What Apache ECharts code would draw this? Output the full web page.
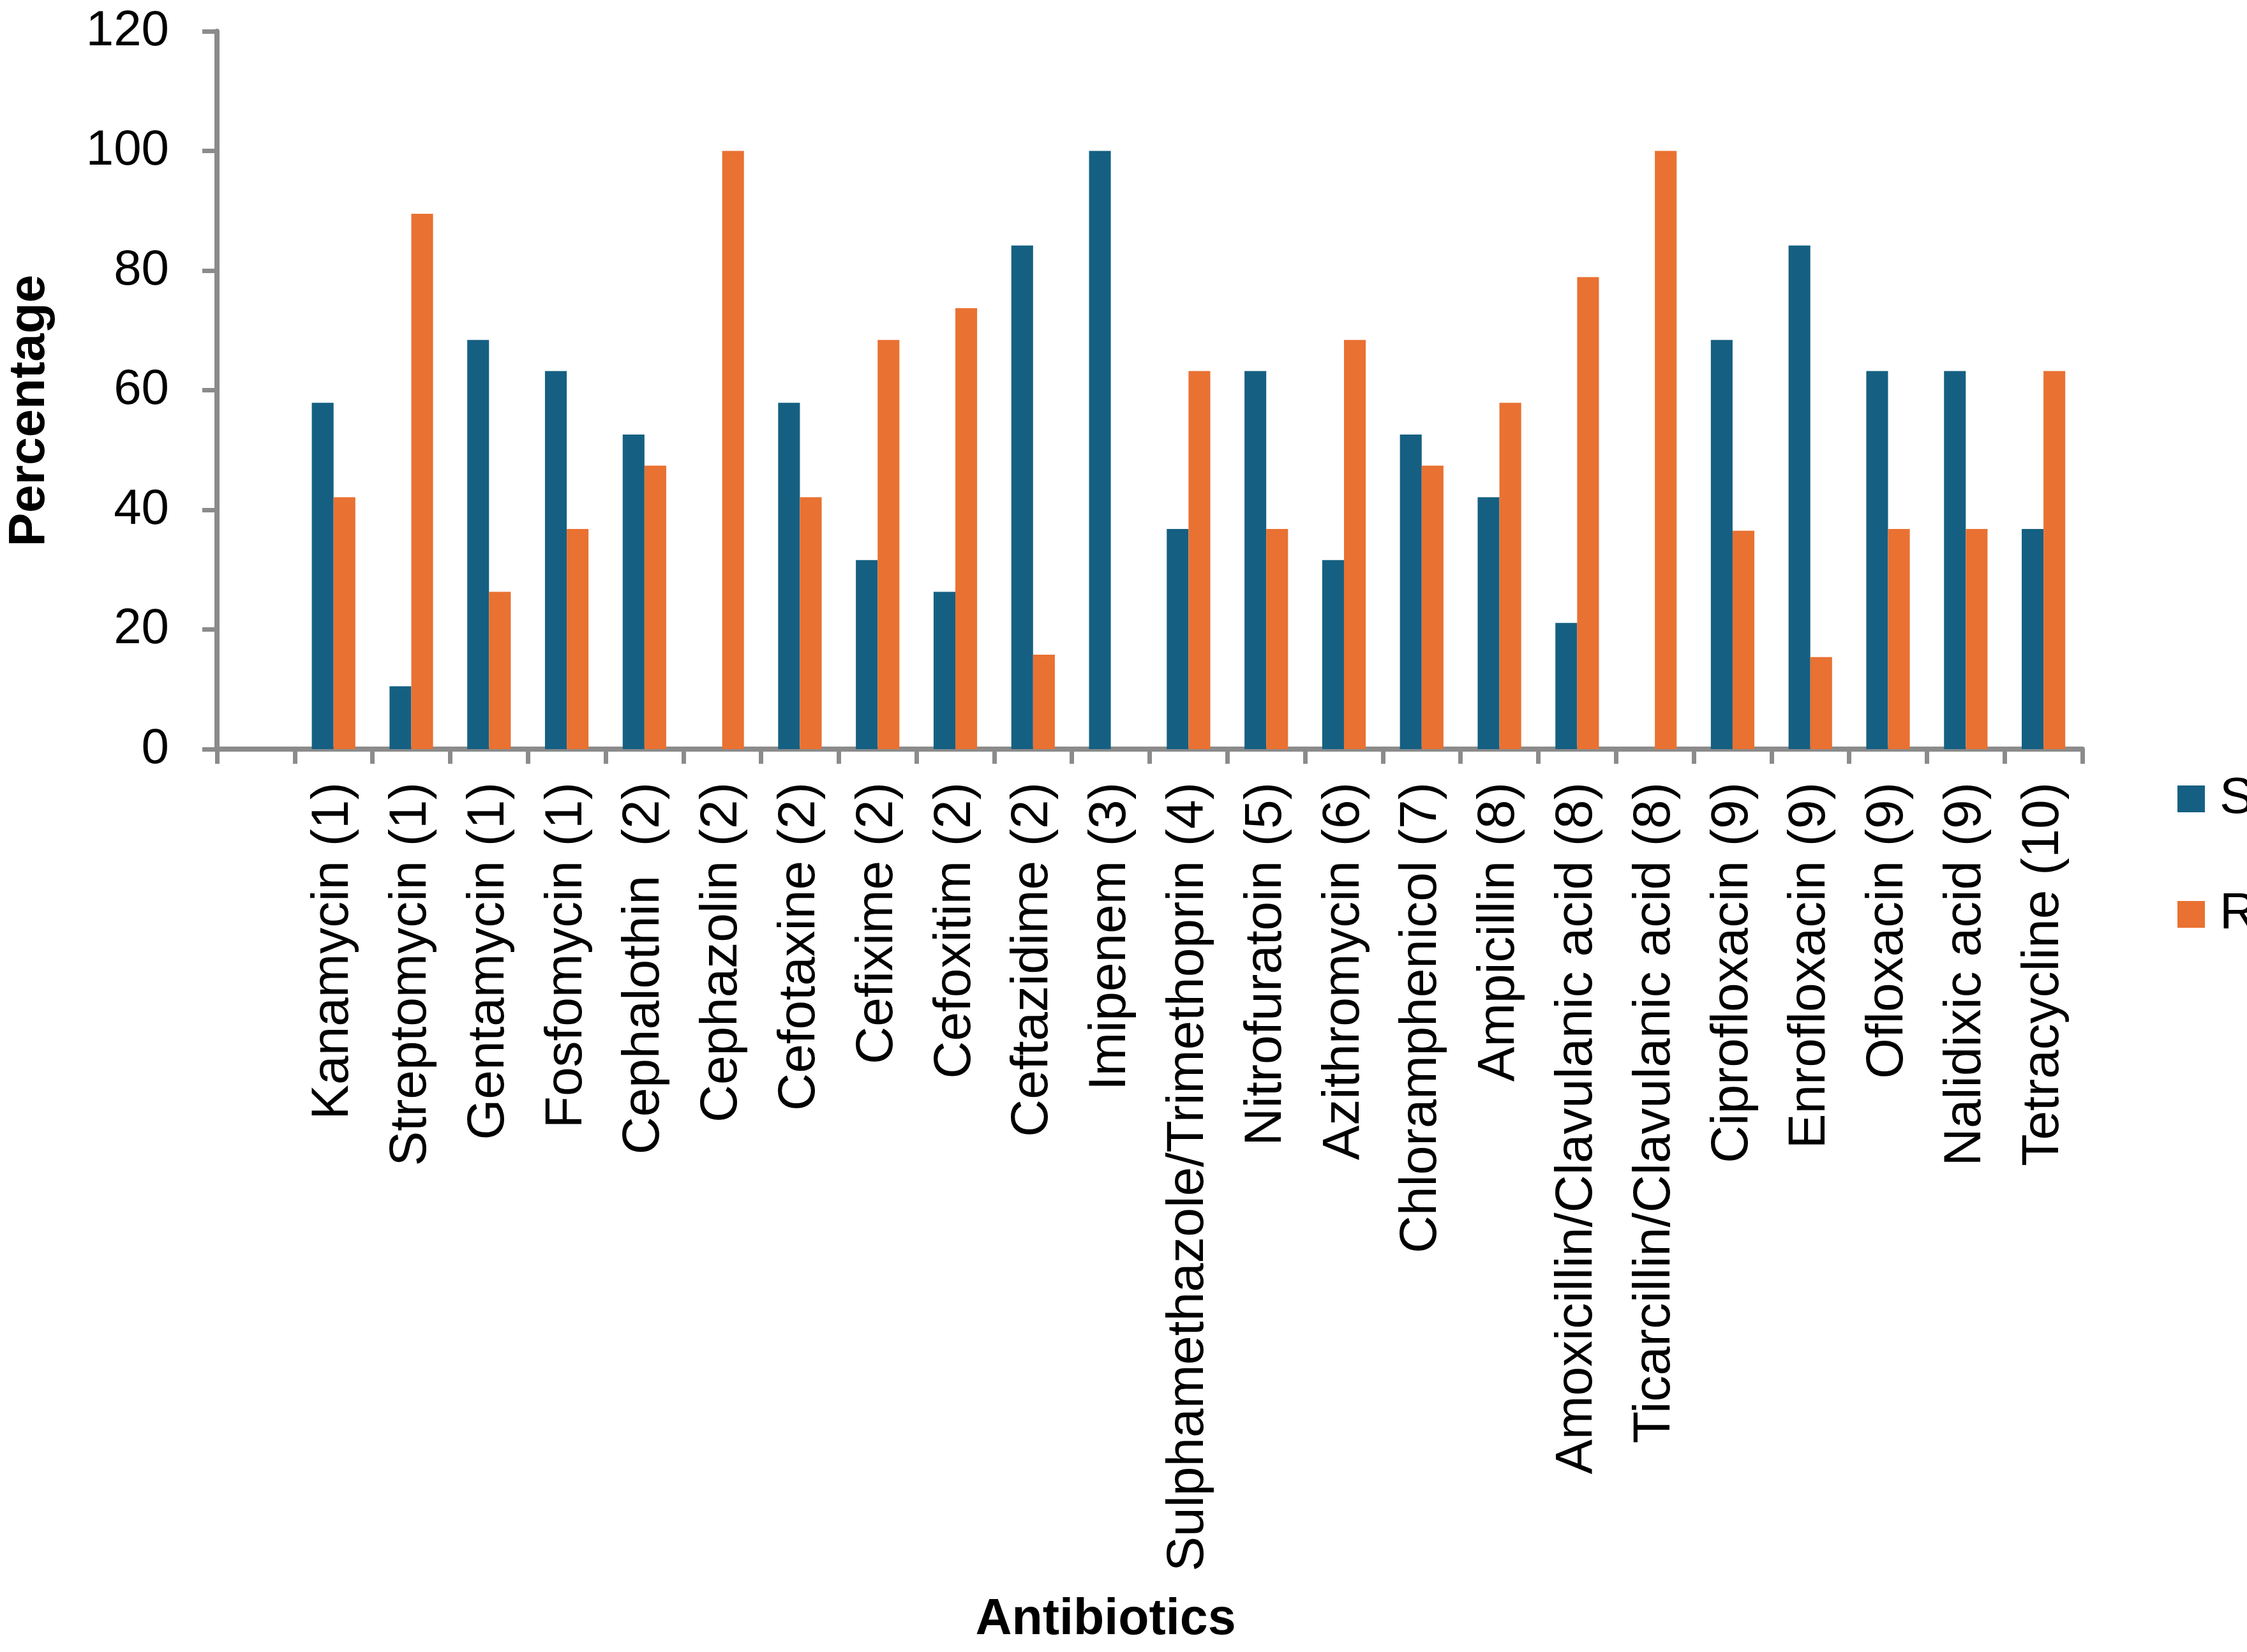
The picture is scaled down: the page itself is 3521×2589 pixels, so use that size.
<!DOCTYPE html>
<html>
<head>
<meta charset="utf-8">
<script src="https://cdn.jsdelivr.net/npm/echarts@6/dist/echarts.min.js"></script>
<style>
  html, body { margin: 0; padding: 0; background: #ffffff; }
  #chart { width: 3521px; height: 2589px; }
</style>
</head>
<body>
<div id="chart"></div>
<script>
// Categories (first slot is an empty category, as in the original)
const categories = [
  '',
  'Kanamycin (1)', 'Streptomycin (1)', 'Gentamycin (1)', 'Fosfomycin (1)',
  'Cephalothin  (2)', 'Cephazolin (2)', 'Cefotaxine (2)', 'Cefixime (2)',
  'Cefoxitim (2)', 'Ceftazidime (2)', 'Imipenem (3)',
  'Sulphamethazole/Trimethoprin (4)', 'Nitrofuratoin (5)', 'Azithromycin (6)',
  'Chloramphenicol (7)', 'Ampicillin (8)', 'Amoxicillin/Clavulanic acid (8)',
  'Ticarcillin/Clavulanic acid (8)', 'Ciprofloxacin (9)', 'Enrofloxacin (9)',
  'Ofloxacin (9)', 'Nalidixic acid (9)', 'Tetracycline (10)'
];

// Susceptible (S) percentages
const valuesS = [null, 57.9, 10.5, 68.4, 63.2, 52.6, 0, 57.9, 31.6, 26.3, 84.2, 100,
  36.8, 63.2, 31.6, 52.6, 42.1, 21.1, 0, 68.4, 84.2, 63.2, 63.2, 36.8];

// Resistant (R) percentages
const valuesR = [null, 42.1, 89.5, 26.3, 36.8, 47.4, 100, 42.1, 68.4, 73.7, 15.8, 0,
  63.2, 36.8, 68.4, 47.4, 57.9, 78.9, 100, 36.5, 15.4, 36.8, 36.8, 63.2];

const seriesNames = ['S', 'R'];
const yTicks = { min: 0, max: 120, interval: 20 };

const FONT = "'Liberation Sans', Arial, sans-serif";
const AXIS_COLOR = '#8b8b8b';

const chart = echarts.init(document.getElementById('chart'), null, { renderer: 'canvas' });

chart.setOption({
  animation: false,
  backgroundColor: '#ffffff',
  textStyle: { fontFamily: FONT },
  grid: { left: 339, right: 258, top: 49, bottom: 1415, containLabel: false },
  legend: {
    orient: 'vertical',
    left: 3407,
    top: 1207,
    itemWidth: 43,
    itemHeight: 42,
    itemGap: 101,
    icon: 'rect',
    data: seriesNames,
    textStyle: { fontSize: 80, color: '#000', fontFamily: FONT, lineHeight: 42, padding: [0, 0, 0, 18] }
  },
  xAxis: {
    type: 'category',
    data: categories,
    boundaryGap: true,
    name: 'Antibiotics',
    nameLocation: 'middle',
    nameGap: 1326,
    nameTextStyle: { fontSize: 79, fontWeight: 'bold', color: '#000', fontFamily: FONT, padding: [0, 138, 0, 0] },
    axisLine: { show: true, lineStyle: { color: AXIS_COLOR, width: 8 } },
    axisTick: { show: true, alignWithLabel: false, length: 23, lineStyle: { color: AXIS_COLOR, width: 7 } },
    axisLabel: { interval: 0, rotate: 90, margin: 52, fontSize: 82, color: '#000', fontFamily: FONT },
    splitLine: { show: false }
  },
  yAxis: {
    type: 'value',
    min: yTicks.min,
    max: yTicks.max,
    interval: yTicks.interval,
    name: 'Percentage',
    nameLocation: 'middle',
    nameRotate: 90,
    nameGap: 253,
    nameTextStyle: { fontSize: 79, fontWeight: 'bold', color: '#000', fontFamily: FONT, padding: [0, 64, 0, 0] },
    axisLine: { show: true, lineStyle: { color: AXIS_COLOR, width: 8 } },
    axisTick: { show: true, length: 23, lineStyle: { color: AXIS_COLOR, width: 7 } },
    axisLabel: { margin: 75, fontSize: 78, color: '#000', fontFamily: FONT },
    splitLine: { show: false }
  },
  series: [
    {
      name: seriesNames[0],
      type: 'bar',
      data: valuesS,
      barWidth: '28%',
      barGap: '0%',
      itemStyle: { color: '#156082' }
    },
    {
      name: seriesNames[1],
      type: 'bar',
      data: valuesR,
      barWidth: '28%',
      barGap: '0%',
      itemStyle: { color: '#E97132' }
    }
  ]
});
</script>
</body>
</html>
